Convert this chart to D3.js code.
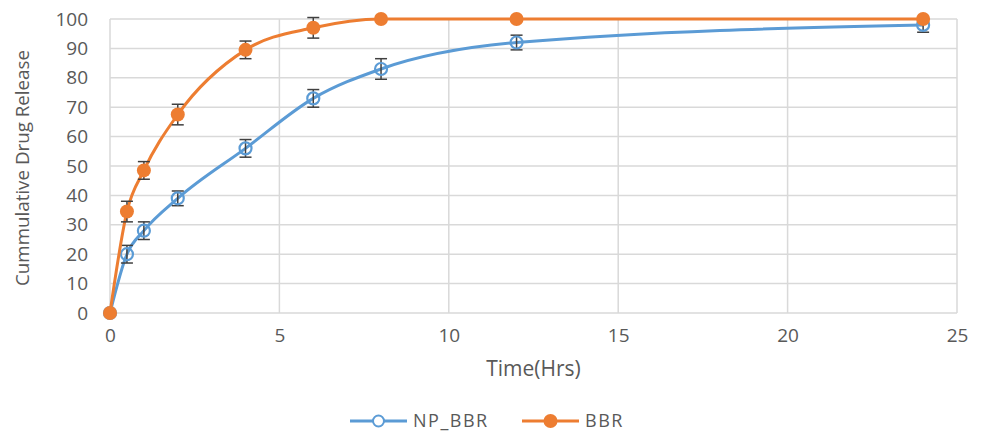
<!DOCTYPE html>
<html lang="en">
<head>
    <meta charset="UTF-8">
    <title>Cumulative Drug Release</title>
    <style>
        body { margin: 0; background: #ffffff; }
        /* tick labels and titles in a soft grey like the original */
        .tick text { fill: #595959; font-family: "Open Sans", sans-serif; font-size: 19px; }
        .axis-title { fill: #595959; font-family: "Open Sans", sans-serif; }
        .legend-text { fill: #595959; font-family: "Open Sans", sans-serif; font-size: 18px; letter-spacing: 1.5px; }
    </style>
    <script src="https://d3js.org/d3.v7.min.js"></script>
</head>
<body>
<div id="chart"></div>

<script>
    // Time points (hours)
    var times = [0, 0.5, 1, 2, 4, 6, 8, 12, 24];

    // Cumulative release (%) and error bar half widths
    var npBbr = [0, 20, 28, 39, 56, 73, 83, 92, 98];
    var npBbrErr = [0, 3, 3, 2.5, 3, 3, 3.5, 2.5, 2.5];
    var bbr = [0, 34.5, 48.5, 67.5, 89.5, 97, 100, 100, 100];
    var bbrErr = [0, 3.5, 3, 3.5, 3, 3.5, 0, 0, 0];

    var xTicks = [0, 5, 10, 15, 20, 25];
    var yTicks = [0, 10, 20, 30, 40, 50, 60, 70, 80, 90, 100];

    var width = 984, height = 433;
    var margin = {top: 19, right: 27, bottom: 120, left: 110};

    var svg = d3.select("#chart").append("svg")
        .attr("width", width)
        .attr("height", height);

    var x = d3.scaleLinear().domain([0, 25]).range([margin.left, width - margin.right]);
    var y = d3.scaleLinear().domain([0, 100]).range([height - margin.bottom, margin.top]);

    // Gridlines
    svg.append("g").selectAll("line.h")
        .data(yTicks)
        .enter().append("line")
        .attr("x1", x(0)).attr("x2", x(25))
        .attr("y1", d => y(d)).attr("y2", d => y(d))
        .attr("stroke", "#d9d9d9").attr("stroke-width", 1.5);

    svg.append("g").selectAll("line.v")
        .data(xTicks)
        .enter().append("line")
        .attr("x1", d => x(d)).attr("x2", d => x(d))
        .attr("y1", y(0)).attr("y2", y(100))
        .attr("stroke", "#d9d9d9").attr("stroke-width", 1.5);

    // Axes (labels only)
    var xAxis = svg.append("g")
        .attr("transform", "translate(0," + y(0) + ")")
        .call(d3.axisBottom(x).tickValues(xTicks).tickSize(0).tickPadding(16));
    xAxis.select(".domain").remove();

    var yAxis = svg.append("g")
        .attr("transform", "translate(" + x(0) + ",0)")
        .call(d3.axisLeft(y).tickValues(yTicks).tickSize(0).tickPadding(22));
    yAxis.select(".domain").remove();

    // Axis titles
    svg.append("text")
        .attr("class", "axis-title")
        .attr("x", x(12.5)).attr("y", 376)
        .attr("text-anchor", "middle")
        .attr("font-size", 21)
        .text("Time(Hrs)");

    svg.append("text")
        .attr("class", "axis-title")
        .attr("transform", "translate(29," + (y(50) + 2) + ") rotate(-90)")
        .attr("text-anchor", "middle")
        .attr("font-size", 19)
        .attr("textLength", 236)
        .attr("lengthAdjust", "spacingAndGlyphs")
        .text("Cummulative Drug Release");

    // Build series
    function makeSeries(vals, errs) {
        return times.map((t, i) => ({t: t, v: vals[i], e: errs[i]}));
    }
    var series = [
        {name: "NP_BBR", data: makeSeries(npBbr, npBbrErr), color: "#5b9bd5", filled: false},
        {name: "BBR", data: makeSeries(bbr, bbrErr), color: "#ed7d31", filled: true}
    ];

    var line = d3.line()
        .x(d => x(d.t))
        .y(d => y(d.v))
        .curve(d3.curveMonotoneX);

    series.forEach(function (s) {
        var g = svg.append("g");

        g.append("path")
            .datum(s.data)
            .attr("d", line)
            .attr("fill", "none")
            .attr("stroke", s.color)
            .attr("stroke-width", 3);

        // Error bars
        var eb = g.selectAll("g.err")
            .data(s.data.filter(d => d.e > 0))
            .enter().append("g");
        eb.append("line")
            .attr("x1", d => x(d.t)).attr("x2", d => x(d.t))
            .attr("y1", d => y(d.v - d.e)).attr("y2", d => y(d.v + d.e))
            .attr("stroke", "#404040").attr("stroke-width", 1.5);
        eb.append("line")
            .attr("x1", d => x(d.t) - 6).attr("x2", d => x(d.t) + 6)
            .attr("y1", d => y(d.v + d.e)).attr("y2", d => y(d.v + d.e))
            .attr("stroke", "#404040").attr("stroke-width", 1.5);
        eb.append("line")
            .attr("x1", d => x(d.t) - 6).attr("x2", d => x(d.t) + 6)
            .attr("y1", d => y(d.v - d.e)).attr("y2", d => y(d.v - d.e))
            .attr("stroke", "#404040").attr("stroke-width", 1.5);

        // Markers
        g.selectAll("circle")
            .data(s.data)
            .enter().append("circle")
            .attr("cx", d => x(d.t))
            .attr("cy", d => y(d.v))
            .attr("r", s.filled ? 7 : 6)
            .attr("fill", s.filled ? s.color : "#ffffff")
            .attr("fill-opacity", s.filled ? 1 : 0)
            .attr("stroke", s.color)
            .attr("stroke-width", s.filled ? 0 : 2.2);
    });

    // Legend
    var legendItems = [
        {name: "NP_BBR", color: "#5b9bd5", filled: false, x0: 350},
        {name: "BBR", color: "#ed7d31", filled: true, x0: 522}
    ];
    var legend = svg.append("g").selectAll("g")
        .data(legendItems)
        .enter().append("g")
        .attr("transform", d => "translate(" + d.x0 + ",421)");
    legend.append("line")
        .attr("x1", 0).attr("x2", 57)
        .attr("y1", 0).attr("y2", 0)
        .attr("stroke", d => d.color).attr("stroke-width", 3);
    legend.append("circle")
        .attr("cx", 28.5).attr("cy", 0)
        .attr("r", d => d.filled ? 7 : 5.5)
        .attr("fill", d => d.filled ? d.color : "#ffffff")
        .attr("stroke", d => d.color)
        .attr("stroke-width", d => d.filled ? 0 : 2);
    legend.append("text")
        .attr("class", "legend-text")
        .attr("x", 63).attr("y", 6)
        .text(d => d.name);
</script>
</body>
</html>
